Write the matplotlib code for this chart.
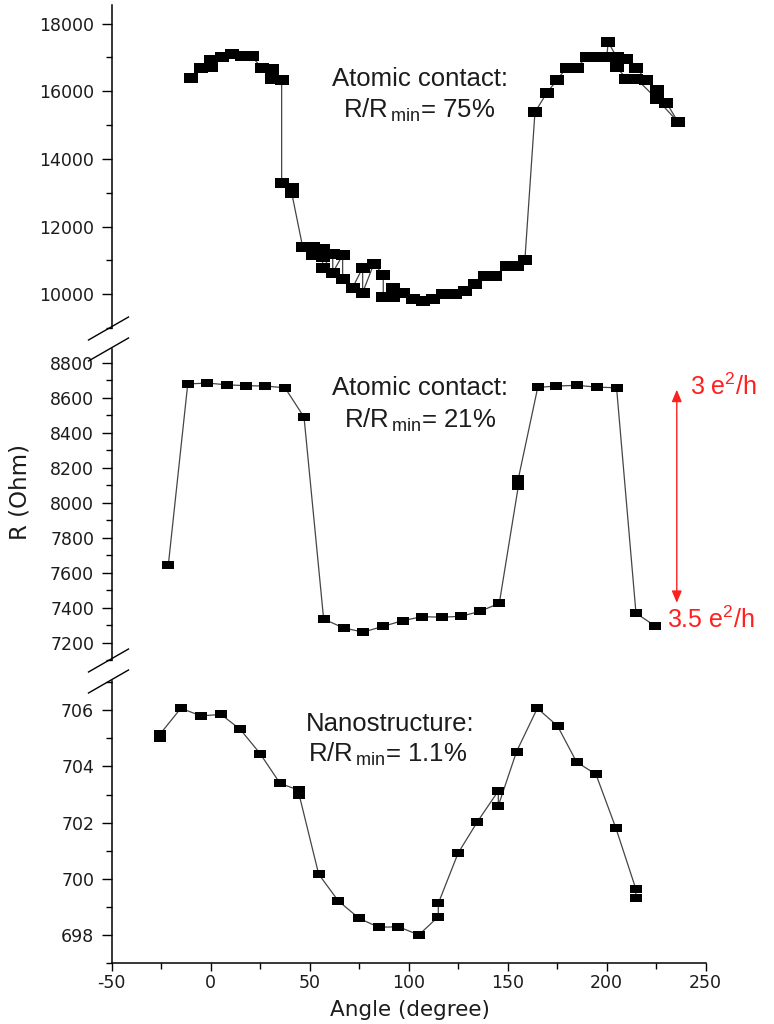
import matplotlib
matplotlib.use('Agg')
import matplotlib.pyplot as plt
from matplotlib.path import Path
from matplotlib.lines import Line2D
from matplotlib.ticker import MultipleLocator

plt.rcParams['axes.unicode_minus'] = False

# ---------------- data ----------------
angle_top = [-9.8, -4.8, 0.2, 0.2, 5.6, 10.7, 15.7, 20.8, 25.8, 30.9, 30.9, 35.9,
             35.9, 41.0, 41.0, 46.5, 51.6, 51.6, 56.6, 56.6, 56.6, 61.7, 61.7,
             66.7, 66.7, 71.8, 76.8, 76.8, 82.5, 87.2, 87.2, 92.2, 92.2, 97.3,
             102.3, 107.4, 112.4, 117.5, 123.4, 128.4, 133.5, 138.5, 143.6,
             149.5, 154.5, 158.7, 163.8, 169.7, 174.7, 179.8, 184.8, 189.9,
             194.9, 200.0, 200.8, 205.0, 210.0, 215.0, 220.1, 225.2, 230.2,
             236.1, 225.2, 215.0, 210.0, 205.0]
r_top = [16388, 16685, 16714, 16913, 17010, 17111, 17031, 17031, 16696, 16646, 16370, 16320,
         13277, 13150, 12990, 11401, 11381, 11164, 11333, 11105, 10788, 11185, 10640,
         11155, 10444, 10196, 10788, 10047, 10906, 10571, 9920, 10196, 9920, 10047,
         9852, 9801, 9852, 10000, 10000, 10097, 10296, 10542, 10542,
         10838, 10838, 11007, 15381, 15944, 16320, 16696, 16696, 17010,
         17010, 17010, 17455, 17010, 16963, 16685, 16320, 16024, 15659,
         15085, 15778, 16370, 16370, 16714]

angle_mid = [-21.3, -11.5, -1.6, 8.2, 17.9, 27.7, 37.6, 47.2, 57.1, 67.2, 77.1,
             86.9, 97.0, 106.8, 116.7, 126.3, 136.0, 145.8, 155.4, 155.4, 165.2,
             174.4, 185.0, 194.9, 205.0, 214.8, 224.4]
r_mid = [7645, 8680, 8685, 8675, 8670, 8668, 8658, 8490, 7335, 7283, 7260,
         7292, 7325, 7348, 7345, 7350, 7378, 7425, 8095, 8138, 8660,
         8668, 8672, 8662, 8658, 7368, 7295]

angle_bot = [-25.5, -25.5, -15.0, -4.8, 5.3, 15.0, 25.0, 35.1, 44.8, 44.8, 54.6,
             64.5, 75.0, 84.9, 94.8, 105.2, 115.0, 115.0, 125.0, 134.7, 145.3,
             145.3, 154.5, 165.0, 175.2, 184.8, 194.6, 204.7, 214.7, 214.7]
r_bot = [705.0, 705.15, 706.07, 705.80, 705.85, 705.32, 704.46, 703.40, 703.15, 702.98, 700.17,
         699.22, 698.60, 698.28, 698.30, 698.01, 698.66, 699.13, 700.92, 702.03, 703.13,
         702.60, 704.53, 706.07, 705.44, 704.16, 703.72, 701.80, 699.65, 699.33]

x_ticks = [-50, 0, 50, 100, 150, 200, 250]

arrow_angle = 235.4
arrow_r_top = 8647
arrow_r_bottom = 7427

# ---------------- figure ----------------
W, H = 774, 1024
fig = plt.figure(figsize=(W / 100, H / 100), dpi=100)

def fx(px):
    return px / W

def fy(py):
    return 1 - py / H

left_px, right_px = 111.5, 705.7
panels_px = [(5, 328), (349, 660), (681, 963.3)]
ylims = [(9000, 18550), (7100, 8880), (697.0, 707.04)]
ymaj = [2000, 200, 2]
ymin = [1000, 100, 1]

rect = Path([(-1, -0.72), (1, -0.72), (1, 0.72), (-1, 0.72), (-1, -0.72)], closed=True)

TXT = '#1c1c1c'

axes = []
for i, (t, b) in enumerate(panels_px):
    ax = fig.add_axes([fx(left_px), fy(b), fx(right_px - left_px), (b - t) / H])
    ax.set_xlim(-50, 250)
    ax.set_ylim(*ylims[i])
    for s in ['top', 'right']:
        ax.spines[s].set_visible(False)
    ax.spines['left'].set_linewidth(1.1)
    ax.spines['bottom'].set_linewidth(1.1)
    ax.yaxis.set_major_locator(MultipleLocator(ymaj[i]))
    ax.yaxis.set_minor_locator(MultipleLocator(ymin[i]))
    ax.tick_params(axis='y', which='major', length=7.5, width=1.0, pad=5,
                   labelsize=12.5, labelcolor=TXT)
    ax.tick_params(axis='y', which='minor', length=4.5, width=1.0)
    if i < 2:
        ax.spines['bottom'].set_visible(False)
        ax.tick_params(axis='x', which='both', bottom=False, labelbottom=False)
    else:
        ax.set_xticks(x_ticks)
        ax.xaxis.set_minor_locator(MultipleLocator(25))
        ax.tick_params(axis='x', which='major', length=6, width=1.0, pad=2,
                       labelsize=12.5, labelcolor=TXT)
        ax.tick_params(axis='x', which='minor', length=4, width=1.0)
    axes.append(ax)

ax_top, ax_mid, ax_bot = axes
ax_top.set_yticks([10000, 12000, 14000, 16000, 18000])
ax_mid.set_yticks([7200, 7400, 7600, 7800, 8000, 8200, 8400, 8600, 8800])
ax_bot.set_yticks([698, 700, 702, 704, 706])
for ax in axes:
    for lab in ax.get_yticklabels() + ax.get_xticklabels():
        lab.set_family('DejaVu Sans')

line_kw = dict(color='#454545', lw=0.9, marker=rect, mfc='black', mec='black',
               mew=0.0, clip_on=False)
ax_top.plot(angle_top, r_top, ms=10.5, **line_kw)
ax_mid.plot(angle_mid, r_mid, ms=8.0, **line_kw)
ax_bot.plot(angle_bot, r_bot, ms=8.5, **line_kw)

# break marks on left spine
def brk(py):
    x1, y1 = left_px - 23, py + 12
    x2, y2 = left_px + 17, py - 11
    fig.add_artist(Line2D([fx(x1), fx(x2)], [fy(y1), fy(y2)],
                          transform=fig.transFigure, color='black', lw=1.0))

for py in [328, 349, 660, 681]:
    brk(py)

# annotations
ann_font = dict(family='Liberation Sans', color=TXT, size=18.5)
sub = r'R/R$_{\,\mathregular{min}}$= '
fig.text(fx(420), fy(86), 'Atomic contact:', ha='center', va='baseline', **ann_font)
fig.text(fx(419), fy(117), sub + '75%', ha='center', va='baseline', **ann_font)
fig.text(fx(420), fy(395), 'Atomic contact:', ha='center', va='baseline', **ann_font)
fig.text(fx(420), fy(427), sub + '21%', ha='center', va='baseline', **ann_font)
fig.text(fx(390), fy(731), 'Nanostructure:', ha='center', va='baseline', **ann_font)
fig.text(fx(388), fy(762), sub + '1.1%', ha='center', va='baseline', **ann_font)

RED = '#ff1f1f'
ax_mid.annotate('', xy=(arrow_angle, arrow_r_top), xytext=(arrow_angle, arrow_r_bottom),
                arrowprops=dict(arrowstyle='<|-|>,head_length=0.6,head_width=0.25',
                                color=RED, lw=1.0, shrinkA=0, shrinkB=0,
                                mutation_scale=12), annotation_clip=False)
fig.text(fx(690), fy(395), r'3 e$^{\mathregular{2}}$/h', ha='left', va='baseline',
         family='Liberation Sans', color=RED, size=18)
fig.text(fx(667), fy(628), r'3.5 e$^{\mathregular{2}}$/h', ha='left', va='baseline',
         family='Liberation Sans', color=RED, size=18)

# axis labels
fig.text(fx(410), fy(1010), 'Angle (degree)', ha='center', va='center',
         family='DejaVu Sans', size=15.5, color=TXT)
fig.text(fx(20), fy(492), 'R (Ohm)', ha='center', va='center', rotation=90,
         family='DejaVu Sans', size=16.5, color=TXT)

fig.savefig('out.png', dpi=100)
